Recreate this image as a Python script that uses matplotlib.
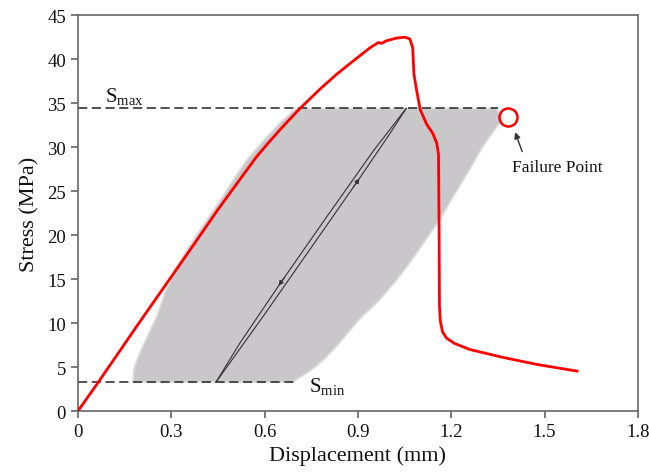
import matplotlib
matplotlib.use('Agg')
import matplotlib.pyplot as plt

plt.rcParams['font.family'] = ['Liberation Serif', 'DejaVu Serif']
plt.rcParams['mathtext.fontset'] = 'custom'
plt.rcParams['mathtext.rm'] = 'Liberation Serif'

# monotonic test curve (red)
mono_x = [0.0, 0.060, 0.200, 0.366, 0.450, 0.520, 0.574, 0.610, 0.650, 0.708, 0.778, 0.832,
          0.885, 0.939, 0.966, 0.976, 0.992, 1.024, 1.051, 1.067, 1.076, 1.080, 1.089,
          1.100, 1.121, 1.140, 1.153, 1.159, 1.161, 1.162, 1.165, 1.172, 1.185, 1.210,
          1.260, 1.367, 1.476, 1.604]
mono_y = [0.0, 3.0, 10.2, 18.6, 22.9, 26.3, 28.9, 30.4, 32.0, 34.2, 36.6, 38.3,
          39.8, 41.3, 41.9, 41.8, 42.1, 42.4, 42.5, 42.3, 41.3, 38.3, 36.4,
          34.3, 32.6, 31.6, 30.5, 29.2, 20.0, 12.0, 10.2, 9.0, 8.3, 7.7,
          7.0, 6.1, 5.3, 4.55]

# envelope of the fatigue hysteresis loops (grey band)
band_x = [0.177, 0.180, 0.195, 0.209, 0.225, 0.254, 0.280, 0.310, 0.345, 0.381, 0.425,
          0.467, 0.505, 0.542, 0.595, 0.650, 0.682, 0.700, 1.345, 1.365, 1.357, 1.334,
          1.300, 1.260, 1.210, 1.164, 1.115, 1.068, 1.020, 0.971, 0.907, 0.870, 0.833,
          0.800, 0.770, 0.735, 0.704, 0.690]
band_y = [3.3, 4.8, 6.3, 7.4, 8.6, 10.8, 13.5, 15.8, 18.0, 20.0, 22.3,
          24.5, 26.6, 28.5, 30.7, 32.8, 33.8, 34.4, 34.4, 33.3, 32.8, 31.7,
          30.0, 27.5, 24.6, 21.8, 19.3, 16.9, 14.7, 12.7, 10.5, 9.0, 7.4,
          6.2, 5.2, 4.3, 3.6, 3.3]

# single loop (black)
load_x = [0.444, 0.60, 0.75, 0.90, 1.000, 1.055]
load_y = [3.3, 11.0, 18.6, 26.2, 31.4, 34.4]
unload_x = [1.055, 0.95, 0.80, 0.65, 0.52, 0.444]
unload_y = [34.4, 29.6, 22.1, 14.5, 7.7, 3.3]

s_max = 34.4
s_min = 3.3
fail_x, fail_y = 1.383, 33.4

x_ticks = [0, 0.3, 0.6, 0.9, 1.2, 1.5, 1.8]
x_tick_labels = ['0', '0.3', '0.6', '0.9', '1.2', '1.5', '1.8']
y_ticks = [0, 5, 10, 15, 20, 25, 30, 35, 40, 45]

fig = plt.figure(figsize=(6.49, 4.77), dpi=100)
ax = fig.add_axes([0.120, 0.136, 0.863, 0.830])

ax.fill(band_x, band_y, facecolor='#c9c7c9', edgecolor='#dedede', linewidth=1.2, zorder=1)

ax.plot(load_x, load_y, color='#333333', linewidth=0.8, zorder=3)
ax.plot(unload_x, unload_y, color='#333333', linewidth=0.8, zorder=3)
ax.annotate('', xy=(load_x[3] + 0.01, load_y[3] + 0.5), xytext=(load_x[3] - 0.02, load_y[3] - 1.0),
            arrowprops=dict(arrowstyle='-|>', color='#333333', lw=0.8, mutation_scale=7), zorder=3)
ax.annotate('', xy=(unload_x[3] - 0.01, unload_y[3] - 0.5), xytext=(unload_x[3] + 0.02, unload_y[3] + 1.0),
            arrowprops=dict(arrowstyle='-|>', color='#333333', lw=0.8, mutation_scale=7), zorder=3)

ax.plot([0, 1.35], [s_max, s_max], color='#222222', linestyle=(0, (6, 3)), linewidth=1.1, zorder=2)
ax.plot([0, 0.70], [s_min, s_min], color='#222222', linestyle=(0, (6, 3)), linewidth=1.1, zorder=2)

ax.plot(mono_x, mono_y, color='#ff0000', linewidth=2.0, zorder=4)

ax.plot([fail_x], [fail_y], marker='o', markersize=13, markerfacecolor='none',
        markeredgecolor='#ff0000', markeredgewidth=1.8, zorder=5)
ax.annotate('', xy=(1.402, 32.0), xytext=(1.431, 29.2),
            arrowprops=dict(arrowstyle='-|>', color='#333333', lw=1.0, mutation_scale=9))
ax.text(1.54, 27.8, 'Failure Point', fontsize=12.5, ha='center', va='center', color='#111111')

ax.text(0.087, 35.2, r'S$_{\rm max}$', fontsize=15, ha='left', va='baseline', color='#111111')
ax.text(0.743, 2.2, r'S$_{\rm min}$', fontsize=15, ha='left', va='baseline', color='#111111')

ax.set_xlim(0, 1.8)
ax.set_ylim(0, 45)
ax.set_xticks(x_ticks)
ax.set_xticklabels(x_tick_labels)
ax.set_yticks(y_ticks)
ax.tick_params(direction='out', length=5, width=1.1, color='#555555', labelsize=13.5,
               labelcolor='#111111', top=False, right=False)
for sp in ax.spines.values():
    sp.set_color('#666666')
    sp.set_linewidth(1.2)

ax.set_xlabel('Displacement (mm)', fontsize=16, color='#111111', labelpad=4)
ax.set_ylabel('Stress (MPa)', fontsize=16, color='#111111', labelpad=6)

fig.savefig('out.png', dpi=100)
plt.close(fig)
